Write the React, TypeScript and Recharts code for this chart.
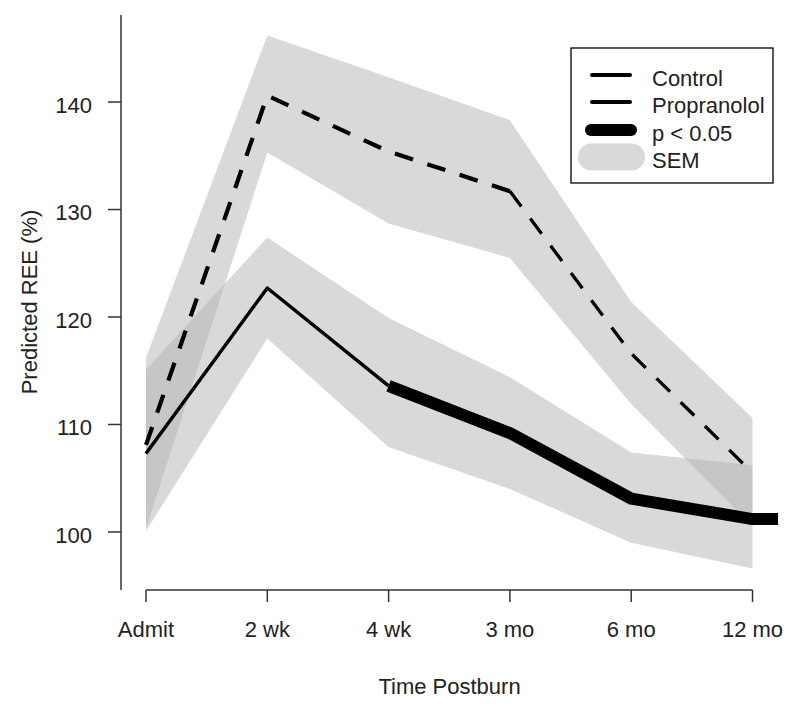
import React from 'react';
import { ComposedChart, Line, Area, XAxis, YAxis, ReferenceLine, Label } from 'recharts';

const categories = ['Admit', '2 wk', '4 wk', '3 mo', '6 mo', '12 mo'];
const controlMean = [107.3, 122.7, 113.6, 109.2, 103.1, 101.2];
const controlLower = [100.1, 118.0, 107.9, 104.0, 99.0, 96.6];
const controlUpper = [115.1, 127.4, 119.9, 114.4, 107.4, 106.2];
const propMean = [108.1, 140.6, 135.4, 131.7, 116.6, 105.5];
const propLower = [100.3, 135.3, 128.7, 125.5, 111.9, 100.5];
const propUpper = [116.2, 146.2, 142.3, 138.3, 121.4, 110.6];
const significant = [false, false, true, true, true, true];
const yTicks = [100, 110, 120, 130, 140];
const significanceTail = { x: 5.21, value: 101.2 };

const FONT = "'Liberation Sans', Arial, Helvetica, sans-serif";
const FS = 22;
const INK = '#222222';
const AXIS = '#333333';

const thickSeg = (i: number) => i < categories.length - 1 && significant[i] && significant[i + 1];
const thinSeg = (i: number) => i < categories.length - 1 && !(significant[i] && significant[i + 1]);

const rows: any[] = categories.map((c, i) => ({
  x: i,
  ctrlBand: [controlLower[i], controlUpper[i]],
  propBand: [propLower[i], propUpper[i]],
  ctrlThin: thinSeg(i) || thinSeg(i - 1) ? controlMean[i] : null,
  ctrlThick: thickSeg(i) || thickSeg(i - 1) ? controlMean[i] : null,
  propEarly: i <= 3 ? propMean[i] : null,
  propLate: i >= 3 ? propMean[i] : null,
}));
rows.push({ x: significanceTail.x, ctrlThick: significanceTail.value });

const legendItems = [
  { label: 'Control', width: 4, color: '#000', x1: 592, x2: 630 },
  { label: 'Propranolol', width: 4, color: '#000', x1: 592, x2: 630 },
  { label: 'p < 0.05', width: 12, color: '#000', x1: 591, x2: 631 },
  { label: 'SEM', width: 27, color: '#d9d9d9', x1: 591.5, x2: 631.5 },
];
const legendRows = [75, 102, 130, 157];

function LegendOverlay() {
  return (
    <svg width={800} height={707} style={{ position: 'absolute', left: 0, top: 0, pointerEvents: 'none' }}>
      <rect x={571} y={48} width={202} height={135} fill="#fff" stroke="#000" strokeWidth={1.3} />
      {legendItems.map((it, k) => (
        <g key={it.label}>
          <line x1={it.x1} x2={it.x2} y1={legendRows[k]} y2={legendRows[k]} stroke={it.color} strokeWidth={it.width} strokeLinecap="round" />
          <text x={652} y={legendRows[k] + 11} fontFamily={FONT} fontSize={FS} fill={INK}>{it.label}</text>
        </g>
      ))}
    </svg>
  );
}

export default function App() {
  return (
    <div style={{ position: 'absolute', left: 0, top: 0, width: 800, height: 707, background: '#fff' }}>
      <ComposedChart width={800} height={707} data={rows} margin={{ top: 15, right: 22, bottom: 0, left: 0 }}>
        <XAxis
          type="number"
          dataKey="x"
          domain={[-0.206, 5.21]}
          allowDataOverflow
          ticks={[0, 1, 2, 3, 4, 5]}
          tickFormatter={(v: number) => categories[v] ?? ''}
          height={117}
          axisLine={false}
          tickLine={{ stroke: AXIS, strokeWidth: 1.5 }}
          tickSize={12}
          tickMargin={19}
          tick={{ fill: INK, fontSize: FS, fontFamily: FONT }}
          interval={0}
        >
          <Label value="Time Postburn" position="insideBottom" offset={13} fill={INK} fontSize={FS} fontFamily={FONT} />
        </XAxis>
        <YAxis
          type="number"
          domain={[94.6, 148.1]}
          allowDataOverflow
          ticks={yTicks}
          width={121}
          axisLine={{ stroke: AXIS, strokeWidth: 1.5 }}
          tickLine={{ stroke: AXIS, strokeWidth: 1.5 }}
          tickSize={13}
          tickMargin={16}
          tick={{ fill: INK, fontSize: FS, fontFamily: FONT, dy: 3 }}
          interval={0}
        >
          <Label
            content={() => (
              <text x={37} y={302} transform="rotate(-90 37 302)" textAnchor="middle" fontFamily={FONT} fontSize={FS} fill={INK}>
                Predicted REE (%)
              </text>
            )}
          />
        </YAxis>
        <ReferenceLine
          segment={[{ x: 0, y: 94.6 }, { x: 5, y: 94.6 }]}
          stroke={AXIS}
          strokeWidth={1.5}
          ifOverflow="visible"
        />
        <Area dataKey="propBand" type="linear" stroke="none" fill="#b3b3b3" fillOpacity={0.5} isAnimationActive={false} dot={false} activeDot={false} />
        <Area dataKey="ctrlBand" type="linear" stroke="none" fill="#b3b3b3" fillOpacity={0.5} isAnimationActive={false} dot={false} activeDot={false} />
        <Line dataKey="ctrlThin" type="linear" stroke="#000" strokeWidth={3.5} dot={false} activeDot={false} isAnimationActive={false} strokeLinejoin="round" />
        <Line dataKey="ctrlThick" type="linear" stroke="#000" strokeWidth={12} strokeLinecap="butt" strokeLinejoin="round" dot={false} activeDot={false} isAnimationActive={false} />
        <Line dataKey="propEarly" type="linear" stroke="#000" strokeWidth={4.2} strokeDasharray="19 15" dot={false} activeDot={false} isAnimationActive={false} />
        <Line dataKey="propLate" type="linear" stroke="#000" strokeWidth={3.3} strokeDasharray="19 15" dot={false} activeDot={false} isAnimationActive={false} />
      </ComposedChart>
      <LegendOverlay />
    </div>
  );
}
